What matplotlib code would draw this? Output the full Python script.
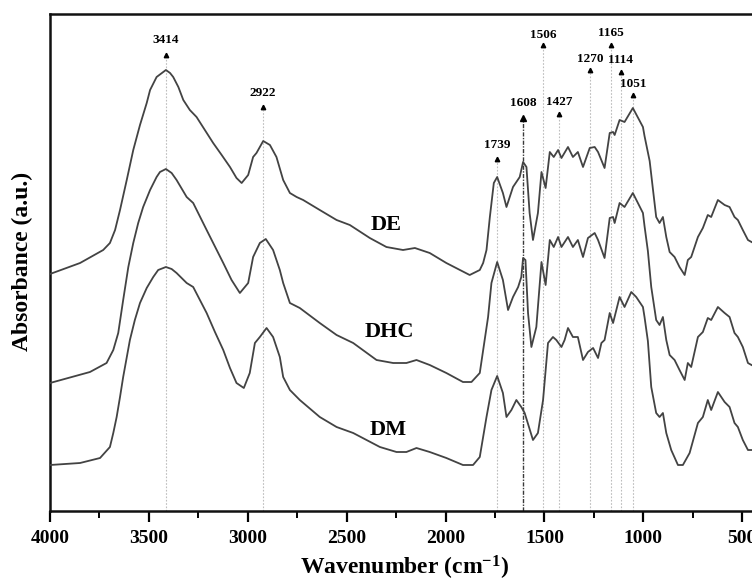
import matplotlib
matplotlib.use("Agg")
import matplotlib.pyplot as plt
from matplotlib.ticker import MultipleLocator

plt.rcParams['font.family'] = ['Liberation Serif', 'DejaVu Serif']
plt.rcParams['mathtext.fontset'] = 'custom'
plt.rcParams['mathtext.rm'] = 'Liberation Serif:bold'
plt.rcParams['mathtext.bf'] = 'Liberation Serif:bold'
plt.rcParams['mathtext.it'] = 'Liberation Serif:bold'

# ---------------- data ----------------
wn_DE = [4000, 3848, 3731, 3697, 3671, 3646, 3612, 3579, 3545, 3511, 3494, 3461, 3414, 3393,
         3377, 3351, 3326, 3293, 3259, 3175, 3132, 3090, 3057,
         3031, 2998, 2973, 2956, 2922, 2888, 2855, 2821, 2787, 2753, 2720, 2636, 2551, 2484,
         2383, 2299, 2215, 2155, 2080, 1996, 1878, 1827, 1810, 1793, 1776, 1756, 1739, 1710,
         1692, 1659, 1625, 1608, 1591, 1575, 1558, 1533, 1515, 1494, 1473, 1453, 1431, 1414,
         1381, 1356, 1331, 1305, 1271, 1246, 1229, 1196, 1170, 1153, 1145, 1120, 1095, 1053,
         1002, 994, 968, 951, 935, 918, 901, 884, 867, 842, 817, 791, 775, 758, 724, 699, 674,
         657, 623, 589, 564, 539, 522, 497, 471, 453]
abs_DE = [237, 248, 261, 268, 281, 301, 331, 361, 386, 408, 421, 434, 441, 438,
          434, 424, 411, 401, 394, 368, 356, 344, 333,
          328, 336, 354, 358, 370, 366, 354, 331, 318, 314, 311, 301, 291, 286,
          273, 264, 261, 263, 258, 248, 236, 241, 248, 261, 294, 328, 334, 318,
          304, 324, 334, 349, 344, 298, 271, 298, 339, 323, 359, 354, 361, 353,
          364, 354, 359, 344, 363, 364, 359, 343, 378, 379, 376, 391, 389, 403,
          384, 375, 350, 321, 294, 288, 294, 274, 259, 254, 244, 236, 251, 254, 274, 283, 296,
          294, 311, 306, 304, 294, 291, 281, 271, 269]

wn_DHC = [4000, 3798, 3714, 3680, 3655, 3630, 3604, 3579, 3554, 3529, 3494, 3461, 3444, 3414,
          3385, 3360, 3309, 3276, 3208, 3124, 3082,
          3040, 2998, 2973, 2939, 2909, 2872, 2838, 2821, 2787, 2737, 2636, 2551, 2467, 2349,
          2265, 2198, 2147, 2080, 1996, 1912, 1869, 1827, 1785, 1768, 1739, 1710, 1684, 1659,
          1633, 1617, 1608, 1596, 1583, 1566, 1541, 1515, 1494, 1473, 1453, 1431, 1414, 1381,
          1356, 1331, 1305, 1280, 1246, 1229, 1196, 1170, 1153, 1145, 1120, 1095, 1053, 1002,
          994, 977, 960, 935, 918, 901, 884, 867, 842, 817, 791, 775, 758, 724, 699, 674, 657,
          623, 589, 564, 539, 522, 497, 471, 453]
abs_DHC = [128, 139, 148, 161, 178, 211, 244, 268, 288, 304, 321, 334, 339, 342,
           338, 331, 314, 308, 281, 248, 231,
           218, 228, 254, 268, 272, 261, 241, 228, 208, 203, 188, 176, 168, 151,
           148, 148, 151, 146, 138, 129, 129, 138, 194, 228, 249, 231, 201, 214,
           224, 234, 253, 251, 198, 164, 184, 249, 226, 271, 264, 274, 264, 274,
           264, 271, 254, 273, 278, 271, 253, 293, 294, 288, 308, 304, 318, 298,
           285, 260, 224, 191, 186, 194, 171, 156, 151, 141, 131, 148, 144, 174, 179, 193, 191,
           204, 198, 194, 178, 174, 164, 148, 146]

wn_DM = [4000, 3848, 3747, 3697, 3680, 3663, 3646, 3630, 3596, 3571, 3545, 3511, 3478, 3453,
         3414, 3385, 3360, 3309, 3276, 3208, 3166, 3124, 3090, 3057, 3020, 2990, 2964, 2939,
         2905, 2872, 2838, 2821, 2787, 2737, 2636, 2551,
         2467, 2332, 2248, 2198, 2147, 2080, 1996, 1912, 1861, 1827, 1793, 1768, 1739, 1710,
         1692, 1667, 1642, 1617, 1600, 1558, 1533, 1507, 1482, 1457, 1440, 1414, 1398, 1381,
         1356, 1331, 1305, 1280, 1254, 1229, 1212, 1196, 1170, 1153, 1120, 1095, 1061, 1036,
         1002, 994, 977, 960, 935, 918, 901, 884, 859, 825, 800, 766, 724, 699, 674, 657, 623,
         589, 564, 539, 522, 497, 471, 453]
abs_DM = [46, 48, 53, 64, 78, 94, 114, 134, 171, 191, 208, 223, 234, 241,
          244, 242, 238, 228, 224, 198, 179, 161, 143, 128, 123, 138, 168, 174,
          183, 174, 154, 134, 121, 111, 94, 84,
          78, 64, 59, 59, 63, 59, 53, 46, 46, 54, 94, 121, 135, 118,
          94, 101, 111, 104, 98, 71, 78, 111, 168, 174, 171, 164, 171, 183,
          174, 174, 151, 159, 163, 153, 168, 171, 198, 188, 214, 204, 219, 214,
          204, 194, 170, 124, 98, 94, 98, 78, 61, 46, 46, 58, 88, 94, 111, 101, 119,
          109, 104, 88, 84, 71, 61, 61]

series_names = ["DE", "DHC", "DM"]

peak_labels = [3414, 2922, 1739, 1608, 1506, 1427, 1270, 1165, 1114, 1051]

x_ticks = [4000, 3500, 3000, 2500, 2000, 1500, 1000, 500]

# ---------------- layout ----------------
W, H = 752, 584
fig = plt.figure(figsize=(W / 100, H / 100), dpi=100)
ax_left, ax_right, ax_top, ax_bottom = 50, 762, 14, 511
ax = fig.add_axes([ax_left / W, (H - ax_bottom) / H,
                   (ax_right - ax_left) / W, (ax_bottom - ax_top) / H])
ax.set_xlim(4000, 400)
ax.set_ylim(0, ax_bottom - ax_top)

line_color = '#434343'
for wn, ab in [(wn_DE, abs_DE), (wn_DHC, abs_DHC), (wn_DM, abs_DM)]:
    ax.plot(wn, ab, color=line_color, lw=1.3, solid_joinstyle='round', zorder=3)

# curve name labels (positions in data coords)
name_pos = [(2298, 286), (2286, 179), (2291, 81)]
for name, (xx, yy) in zip(series_names, name_pos):
    ax.text(xx, yy, name, fontsize=16, fontweight='bold', ha='center', va='center',
            family='Liberation Serif')

# peak markers: label / arrow heights in pixel rows of the image
label_row = [40, 93, 145, 103, 35, 102, 59, 33, 60, 84]
arrow_row = [55, 107, 159, 118, 45, 114, 70, 45, 72, 95]
top_y = ax_bottom
for pk, lr, ar in zip(peak_labels, label_row, arrow_row):
    ya = top_y - ar
    yl = top_y - lr
    if pk == 1608:
        ax.plot([pk, pk], [0, ya], color='#3a3a3a', lw=1.0, ls=(0, (3, 1, 1, 1)), zorder=2)
        ax.plot([pk], [ya], marker='^', color='black', ms=4.5, zorder=4)
    else:
        ax.plot([pk, pk], [0, ya - 3], color='#bdbdbd', lw=0.8, ls=(0, (1.5, 1.5)), zorder=1)
        ax.plot([pk], [ya], marker='^', color='black', ms=3.2, zorder=4)
    ax.text(pk, yl, str(pk), fontsize=9.5, fontweight='bold', ha='center', va='center',
            family='Liberation Serif')

# axes styling
for s in ['left', 'top', 'bottom', 'right']:
    ax.spines[s].set_linewidth(1.8)
    ax.spines[s].set_color('#111111')
ax.set_yticks([])
ax.set_xticks(x_ticks)
ax.xaxis.set_minor_locator(MultipleLocator(250))
ax.tick_params(axis='x', which='major', direction='out', length=8, width=1.6, pad=6,
               labelsize=14)
ax.tick_params(axis='x', which='minor', direction='out', length=5, width=1.4)
for lab in ax.get_xticklabels():
    lab.set_fontweight('bold')
    lab.set_family('Liberation Serif')

fig.text(405 / W, 1.5 / H, r'Wavenumber (cm$^{-1}$)', fontsize=17, fontweight='bold',
         ha='center', va='bottom', family='Liberation Serif')
fig.text(22 / W, (H - 261) / H, 'Absorbance (a.u.)', fontsize=17, fontweight='bold',
         ha='center', va='center', rotation=90, family='Liberation Serif')

fig.savefig('out.png', dpi=100)
